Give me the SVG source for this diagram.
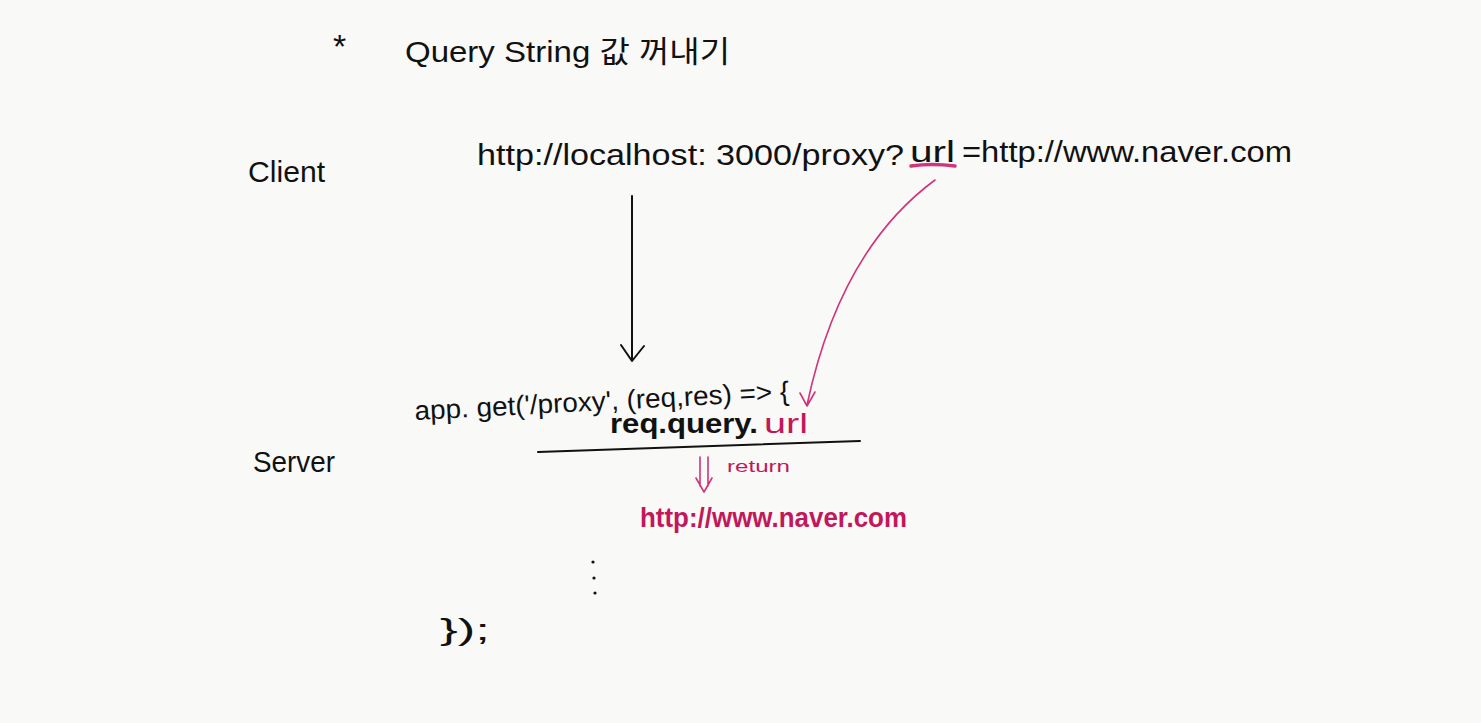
<svg xmlns="http://www.w3.org/2000/svg" width="1481" height="723" viewBox="0 0 1481 723">
<style>
.t{font-family:"Liberation Sans","Noto Sans CJK KR",sans-serif;fill:#111}
.p{font-family:"Liberation Sans","Noto Sans CJK KR",sans-serif;fill:#c2185b}
.bl{stroke:#111;stroke-width:2;fill:none;stroke-linecap:round;stroke-linejoin:round}
.pl{stroke:#d0347a;stroke-width:1.6;fill:none;stroke-linecap:round;stroke-linejoin:round}
</style>
<rect width="1481" height="723" fill="#f9f9f7"/>
<g id="title">
<text class="t" x="333" y="58" font-size="34">*</text>
<text class="t" x="405" y="62" font-size="30" textLength="325" lengthAdjust="spacingAndGlyphs">Query String 값 꺼내기</text>
</g>
<g id="client-label"><text class="t" x="248" y="182" font-size="30" textLength="77" lengthAdjust="spacingAndGlyphs">Client</text></g>
<g id="client-url">
<text class="t" x="477" y="165" font-size="30" textLength="427" lengthAdjust="spacingAndGlyphs">http://localhost: 3000/proxy?</text>
<text class="t" x="910" y="162" font-size="30" textLength="45" lengthAdjust="spacingAndGlyphs">url</text>
<text class="t" x="962" y="162" font-size="30" textLength="330" lengthAdjust="spacingAndGlyphs">=http://www.naver.com</text>
<path d="M911 166 Q932 163 955 166" stroke="#d0347a" stroke-width="3.5" fill="none" stroke-linecap="round"/>
</g>
<g id="server-label"><text class="t" x="253" y="472" font-size="30" textLength="82" lengthAdjust="spacingAndGlyphs">Server</text></g>
<g id="server-code">
<text class="t" x="415" y="420" font-size="27" textLength="375" lengthAdjust="spacingAndGlyphs" transform="rotate(-3 415 420)">app. get('/proxy', (req,res) =&gt; {</text>
<text class="t" x="610" y="433" font-size="28" font-weight="bold" textLength="148" lengthAdjust="spacingAndGlyphs">req.query.</text>
<text class="p" x="764" y="433" font-size="28" textLength="44" lengthAdjust="spacingAndGlyphs">url</text>
<path class="bl" d="M538 452 L860 441"/>
<text class="p" x="727" y="472" font-size="16" textLength="63" lengthAdjust="spacingAndGlyphs">return</text>
<text class="p" x="640" y="527" font-size="28" font-weight="bold" textLength="267" lengthAdjust="spacingAndGlyphs">http://www.naver.com</text>
<circle cx="593" cy="562" r="1.6" fill="#111"/>
<circle cx="594" cy="578" r="1.6" fill="#111"/>
<circle cx="595" cy="593" r="1.6" fill="#111"/>
<text class="t" x="440" y="640" font-size="30" textLength="50" lengthAdjust="spacingAndGlyphs">});</text>
</g>
<g id="connectors">
<path class="bl" d="M632 196 L632 360 M621 345 L632 361 L644 346"/>
<path class="pl" d="M935 180 Q840 250 807 405 M800 393 L807 406 L815 392"/>
<path class="pl" d="M700 457 L700 486 M708 457 L708 486 M696 478 L704 492 L712 478"/>
</g>
</svg>
